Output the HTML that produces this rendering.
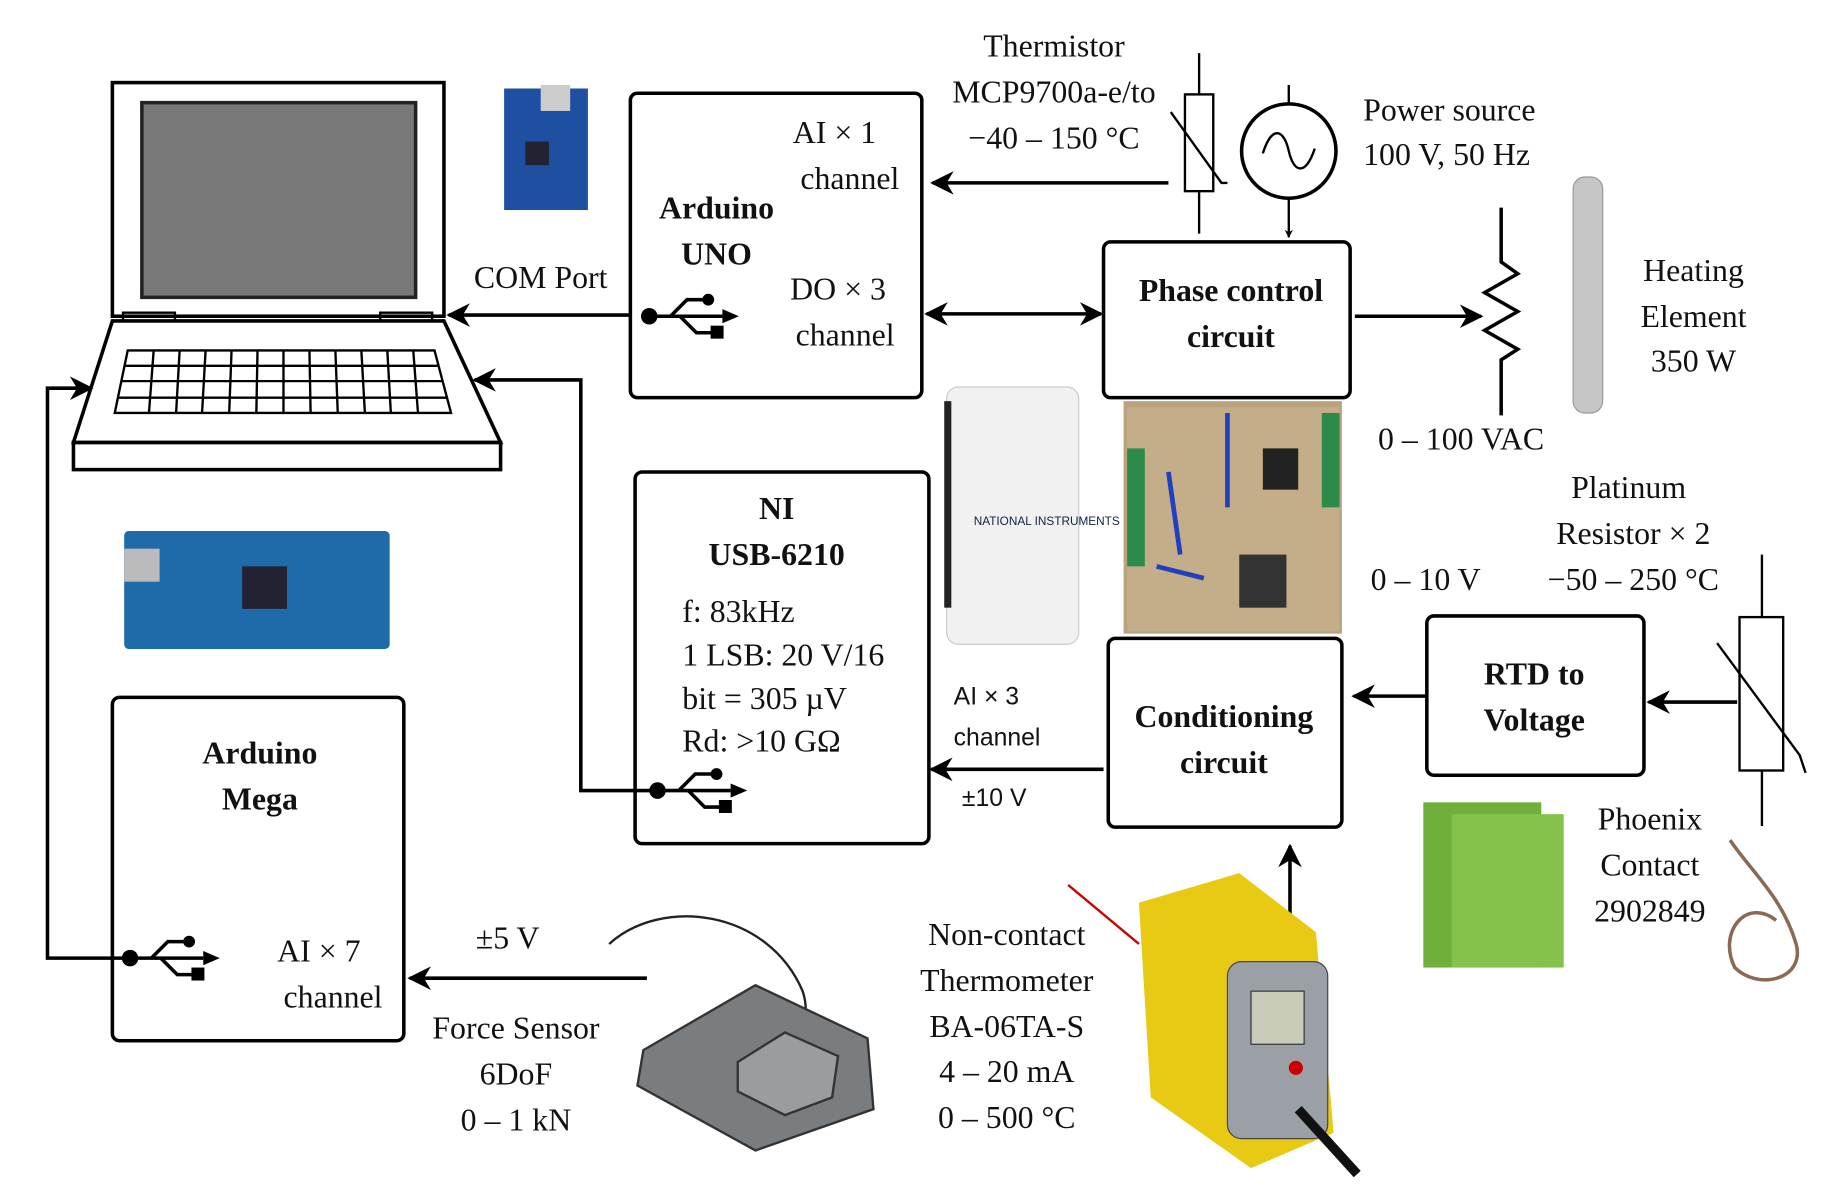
<!DOCTYPE html>
<html><head><meta charset="utf-8"><style>
html,body{margin:0;padding:0;background:#fff;}
svg{display:block}
text{font-family:"Liberation Serif",serif;font-size:27px;fill:#111}
.b{font-weight:bold}
.s{font-family:"Liberation Sans",sans-serif;font-size:21px}
</style></head><body>
<svg width="1846" height="1200" viewBox="0 0 1564 1017" xmlns="http://www.w3.org/2000/svg">
<defs>
<marker id="a" viewBox="0 0 10 10" refX="9" refY="5" markerWidth="7" markerHeight="7" orient="auto-start-reverse" markerUnits="userSpaceOnUse"><path d="M0,0 L10,5 L0,10 L3,5z" fill="#000"/></marker>
<marker id="A" viewBox="0 0 10 10" refX="9" refY="5" markerWidth="24" markerHeight="20" orient="auto-start-reverse" markerUnits="userSpaceOnUse"><path d="M0,0 L10,5 L0,10 L3,5z" fill="#000"/></marker>
<g id="usb" fill="#000" stroke="#000">
<circle cx="0" cy="0" r="7" stroke="none"/>
<line x1="0" y1="0" x2="62" y2="0" stroke-width="3"/>
<path d="M62,-6 L76,0 L62,6z" stroke="none"/>
<path d="M18,0 L32,-14 L48,-14" fill="none" stroke-width="3"/>
<circle cx="50" cy="-14" r="5" stroke="none"/>
<path d="M26,0 L40,14 L54,14" fill="none" stroke-width="3"/>
<rect x="52" y="8" width="11" height="11" stroke="none"/>
</g>
</defs>
<g fill="none" stroke="#000" stroke-width="3">
<rect x="95" y="70" width="281" height="198"/>
<rect x="120" y="87" width="232" height="165" fill="#787878" stroke="#222"/>
<rect x="104" y="265" width="44" height="7" stroke-width="2"/>
<rect x="322" y="265" width="44" height="7" stroke-width="2"/>
<path d="M95,272 L376,272 L424,375 L62,375 Z"/>
<rect x="62" y="375" width="362" height="23"/>
<path d="M108,297 L368,297 L382,350 L97,350 Z" stroke-width="2"/>
<g stroke-width="2">
<line x1="105" y1="310" x2="372" y2="310"/><line x1="102" y1="323" x2="375" y2="323"/><line x1="100" y1="337" x2="379" y2="337"/>
<path d="M130,297 l-4,53 M152,297 l-3,53 M174,297 l-3,53 M196,297 l-2,53 M218,297 l-1,53 M240,297 l0,53 M262,297 l1,53 M284,297 l2,53 M306,297 l3,53 M328,297 l3,53 M350,297 l4,53"/>
</g>
<rect x="534" y="79" width="247" height="258" rx="6"/>
<rect x="935" y="205" width="209" height="132" rx="6"/>
<rect x="538" y="400" width="249" height="315" rx="6"/>
<rect x="939" y="541" width="198" height="160" rx="6"/>
<rect x="1209" y="522" width="184" height="135" rx="6"/>
<rect x="95" y="591" width="247" height="291" rx="6"/>
<line x1="534" y1="267" x2="380" y2="267" marker-end="url(#A)"/>
<line x1="990" y1="155" x2="790" y2="155" marker-end="url(#A)"/>
<line x1="785" y1="266" x2="933" y2="266" marker-start="url(#A)" marker-end="url(#A)"/>
<line x1="1148" y1="268" x2="1255" y2="268" marker-end="url(#A)"/>
<path d="M557,670 L492,670 L492,322 L402,322" marker-end="url(#A)"/>
<line x1="935" y1="652" x2="789" y2="652" marker-end="url(#A)"/>
<line x1="1209" y1="590" x2="1147" y2="590" marker-end="url(#A)"/>
<line x1="1472" y1="595" x2="1397" y2="595" marker-end="url(#A)"/>
<path d="M110,812 L40,812 L40,329 L77,329" marker-end="url(#A)"/>
<line x1="548" y1="829" x2="347" y2="829" marker-end="url(#A)"/>
<line x1="1093" y1="775" x2="1093" y2="717" marker-end="url(#A)"/>
<line x1="1016" y1="45" x2="1016" y2="198" stroke-width="2"/>
<rect x="1004" y="80" width="24" height="82" fill="#fff" stroke-width="2"/>
<path d="M992,95 L1035,155 L1040,155" stroke-width="2"/>
<circle cx="1092" cy="128" r="40"/>
<path d="M1070,130 C1078,105 1088,110 1092,128 C1096,146 1106,150 1114,126" stroke-width="2"/>
<line x1="1092" y1="72" x2="1092" y2="88" stroke-width="2"/>
<line x1="1092" y1="168" x2="1092" y2="201" stroke-width="2" marker-end="url(#a)"/>
<path d="M1272,176 L1272,222 L1286,232 L1258,248 L1286,264 L1258,280 L1286,296 L1272,305 L1272,352"/>
<line x1="1493" y1="470" x2="1493" y2="700" stroke-width="2"/>
<rect x="1474" y="523" width="37" height="130" fill="#fff" stroke-width="2"/>
<path d="M1455,545 L1525,640 L1530,655" stroke-width="2"/>
<path d="M516,800 C560,760 650,770 680,840 C690,870 670,900 650,900" stroke="#222" stroke-width="2"/>
<path d="M1466,712 C1485,740 1510,760 1522,800 C1530,830 1490,840 1470,820 C1455,790 1480,760 1505,780" stroke="#8a6a55" stroke-width="3"/>
</g>
<use href="#usb" x="550" y="268"/>
<use href="#usb" x="557" y="670"/>
<use href="#usb" x="110" y="812"/>
<rect x="427" y="75" width="71" height="103" fill="#1e4fa0"/>
<rect x="458" y="72" width="25" height="22" fill="#ccc"/>
<rect x="445" y="120" width="20" height="20" fill="#223"/>
<rect x="105" y="450" width="225" height="100" rx="4" fill="#1f6aa8"/>
<rect x="105" y="465" width="30" height="28" fill="#bbb"/>
<rect x="205" y="480" width="38" height="36" fill="#223"/>
<rect x="802" y="328" width="112" height="218" rx="10" fill="#f1f1f1" stroke="#ccc"/>
<rect x="800" y="340" width="6" height="175" fill="#222"/>
<text x="825" y="445" class="s" style="font-size:10px;fill:#124">NATIONAL INSTRUMENTS</text>
<rect x="952" y="340" width="185" height="197" fill="#b8a27f"/>
<rect x="955" y="345" width="180" height="190" fill="#c9b48d" opacity=".7"/>
<path d="M990,400 L1000,470 M1040,350 L1040,430 M980,480 L1020,490" stroke="#2040c0" stroke-width="4" fill="none"/>
<rect x="1050" y="470" width="40" height="45" fill="#333"/>
<rect x="1070" y="380" width="30" height="35" fill="#222"/>
<rect x="955" y="380" width="15" height="100" fill="#2e8a4a"/>
<rect x="1120" y="350" width="15" height="80" fill="#2e8a4a"/>
<rect x="1333" y="150" width="25" height="200" rx="10" fill="#c6c6c6" stroke="#999"/>
<rect x="1206" y="680" width="100" height="140" fill="#6fb03a"/>
<rect x="1230" y="690" width="95" height="130" fill="#85c24a"/>
<path d="M545,890 L640,835 L735,880 L740,940 L640,975 L540,920 Z" fill="#7a7d80" stroke="#333" stroke-width="2"/>
<path d="M625,900 L665,875 L710,895 L705,930 L665,945 L625,925 Z" fill="#9a9da0" stroke="#333" stroke-width="2"/>
<path d="M965,765 L1050,740 L1115,790 L1130,960 L1060,990 L975,930 Z" fill="#e8c914"/>
<rect x="1040" y="815" width="85" height="150" rx="12" fill="#9aa0a6" stroke="#444"/>
<rect x="1060" y="840" width="45" height="45" fill="#c8ccb8" stroke="#333"/>
<circle cx="1098" cy="905" r="6" fill="#c00"/>
<path d="M1100,940 L1150,995" stroke="#111" stroke-width="8"/>
<line x1="905" y1="750" x2="965" y2="800" stroke="#c00" stroke-width="2"/>
<g text-anchor="middle">
<text x="707" y="121">AI × 1</text>
<text x="720" y="160">channel</text>
<text x="607" y="185" class="b">Arduino</text>
<text x="607" y="224" class="b">UNO</text>
<text x="710" y="254">DO × 3</text>
<text x="716" y="293">channel</text>
<text x="458" y="244">COM Port</text>
<text x="893" y="48">Thermistor</text>
<text x="893" y="87">MCP9700a-e/to</text>
<text x="893" y="126">−40 – 150 °C</text>
<text x="1043" y="255" class="b">Phase control</text>
<text x="1043" y="294" class="b">circuit</text>
<text x="1435" y="238">Heating</text>
<text x="1435" y="277">Element</text>
<text x="1435" y="315">350 W</text>
<text x="1238" y="381">0 – 100 VAC</text>
<text x="658" y="440" class="b">NI</text>
<text x="658" y="479" class="b">USB-6210</text>
<text x="1037" y="616" class="b">Conditioning</text>
<text x="1037" y="655" class="b">circuit</text>
<text x="1208" y="500">0 – 10 V</text>
<text x="1380" y="422">Platinum</text>
<text x="1384" y="461">Resistor × 2</text>
<text x="1384" y="500">−50 – 250 °C</text>
<text x="1300" y="580" class="b">RTD to</text>
<text x="1300" y="619" class="b">Voltage</text>
<text x="1398" y="703">Phoenix</text>
<text x="1398" y="742">Contact</text>
<text x="1398" y="781">2902849</text>
<text x="220" y="647" class="b">Arduino</text>
<text x="220" y="686" class="b">Mega</text>
<text x="270" y="815">AI × 7</text>
<text x="282" y="854">channel</text>
<text x="430" y="804">±5 V</text>
<text x="437" y="880">Force Sensor</text>
<text x="437" y="919">6DoF</text>
<text x="437" y="958">0 – 1 kN</text>
<text x="853" y="801">Non-contact</text>
<text x="853" y="840">Thermometer</text>
<text x="853" y="879">BA-06TA-S</text>
<text x="853" y="917">4 – 20 mA</text>
<text x="853" y="956">0 – 500 °C</text>
</g>
<text x="1155" y="102">Power source</text>
<text x="1155" y="140">100 V, 50 Hz</text>
<text x="578" y="527">f: 83kHz</text>
<text x="578" y="564">1 LSB: 20 V/16</text>
<text x="578" y="601">bit = 305 µV</text>
<text x="578" y="637">Rd: &gt;10 GΩ</text>
<text x="808" y="597" class="s">AI × 3</text>
<text x="808" y="632" class="s">channel</text>
<text x="815" y="683" class="s">±10 V</text>
</svg>
</body></html>
